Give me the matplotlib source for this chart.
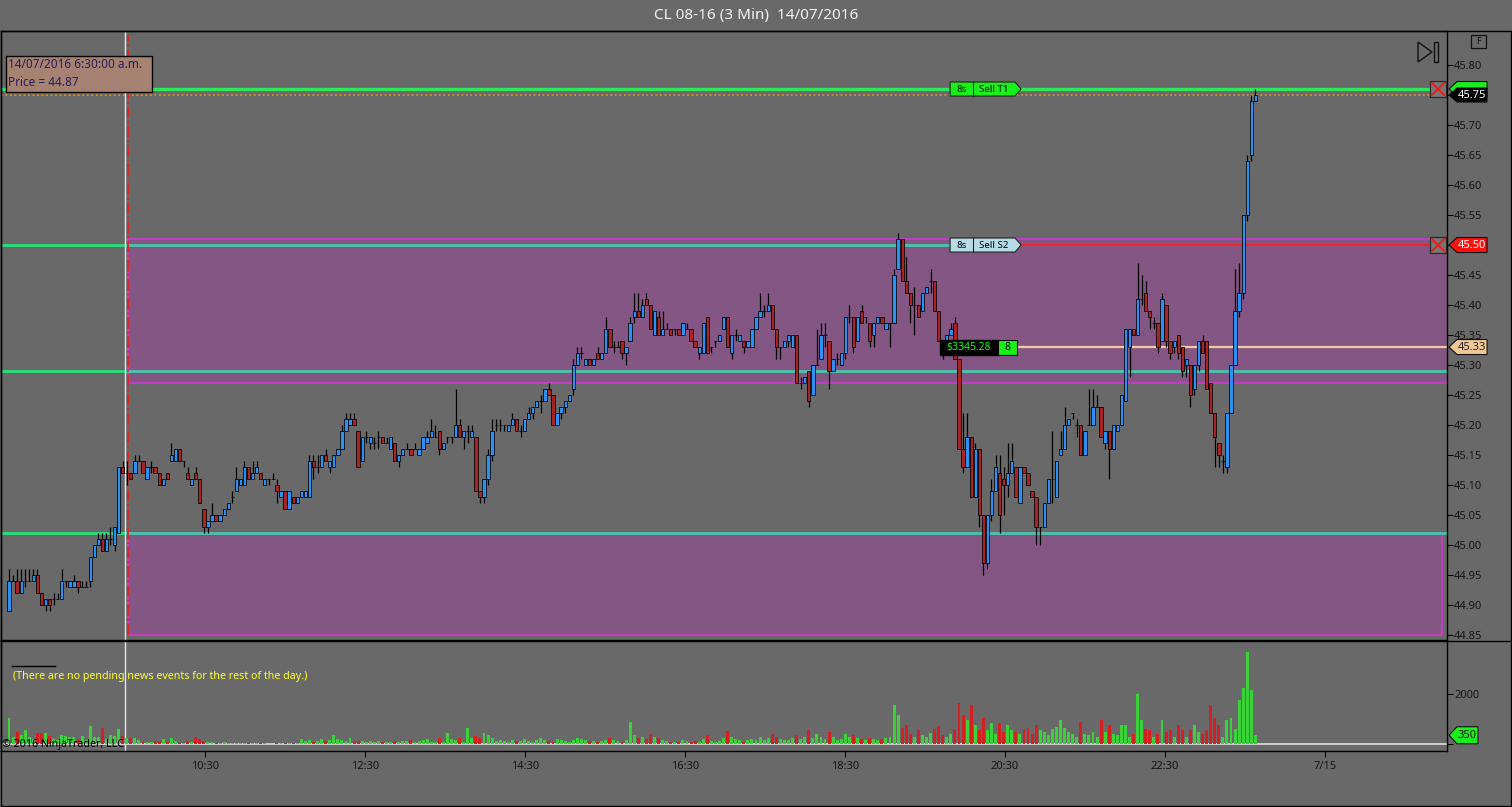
import matplotlib
matplotlib.use("Agg")
import matplotlib.pyplot as plt
import matplotlib.transforms as mtransforms
from matplotlib.patches import Polygon, Rectangle
from matplotlib.lines import Line2D
import numpy as np

plt.rcParams['font.family'] = ['Noto Sans', 'DejaVu Sans']

# ---- dados (CL 08-16, barras de 3 min, 14/07/2016) ----
opens = [
    44.89, 44.94, 44.94, 44.92, 44.94, 44.94, 44.94, 44.95, 44.92, 44.90,
    44.91, 44.91, 44.91, 44.91, 44.94, 44.93, 44.93, 44.94, 44.93, 44.93,
    44.94, 44.98, 45.00, 45.01, 44.99, 45.01, 45.00, 45.02, 45.13, 45.12,
    45.12, 45.12, 45.14, 45.14, 45.11, 45.13, 45.13, 45.12, 45.10, 45.12,
    45.14, 45.14, 45.16, 45.14, 45.12, 45.10, 45.12, 45.11, 45.06, 45.03,
    45.04, 45.05, 45.04, 45.05, 45.06, 45.08, 45.09, 45.10, 45.10, 45.13,
    45.11, 45.12, 45.12, 45.10, 45.11, 45.11, 45.10, 45.08, 45.09, 45.06,
    45.08, 45.07, 45.08, 45.08, 45.08, 45.14, 45.13, 45.13, 45.15, 45.13,
    45.13, 45.15, 45.16, 45.19, 45.20, 45.21, 45.19, 45.14, 45.18, 45.17,
    45.17, 45.18, 45.18, 45.17, 45.16, 45.17, 45.14, 45.15, 45.16, 45.16,
    45.16, 45.15, 45.16, 45.17, 45.18, 45.18, 45.19, 45.16, 45.18, 45.18,
    45.18, 45.20, 45.18, 45.19, 45.18, 45.18, 45.09, 45.08, 45.11, 45.15,
    45.20, 45.20, 45.20, 45.19, 45.20, 45.21, 45.19, 45.19, 45.21, 45.22,
    45.23, 45.24, 45.24, 45.26, 45.25, 45.20, 45.22, 45.23, 45.24, 45.26,
    45.30, 45.32, 45.30, 45.31, 45.30, 45.32, 45.31, 45.32, 45.36, 45.33,
    45.33, 45.34, 45.32, 45.34, 45.38, 45.39, 45.38, 45.41, 45.40, 45.35,
    45.38, 45.35, 45.36, 45.36, 45.36, 45.36, 45.35, 45.36, 45.36, 45.34,
    45.32, 45.32, 45.38, 45.33, 45.34, 45.34, 45.36, 45.38, 45.32, 45.35,
    45.34, 45.34, 45.33, 45.33, 45.36, 45.38, 45.39, 45.39, 45.40, 45.36,
    45.33, 45.33, 45.34, 45.33, 45.35, 45.27, 45.27, 45.29, 45.25, 45.30,
    45.31, 45.35, 45.34, 45.29, 45.31, 45.30, 45.32, 45.38, 45.38, 45.34,
    45.39, 45.38, 45.37, 45.35, 45.37, 45.38, 45.36, 45.37, 45.37, 45.46,
    45.51, 45.44, 45.42, 45.40, 45.40, 45.39, 45.42, 45.44, 45.44, 45.39,
    45.34, 45.33, 45.35, 45.37, 45.31, 45.16, 45.13, 45.18, 45.08, 45.16,
    45.05, 44.97, 45.05, 45.09, 45.12, 45.11, 45.10, 45.12, 45.13, 45.07,
    45.13, 45.12, 45.09, 45.08, 45.03, 45.03, 45.07, 45.11, 45.08, 45.15,
    45.16, 45.20, 45.22, 45.20, 45.20, 45.15, 45.20, 45.20, 45.23, 45.23,
    45.17, 45.19, 45.16, 45.19, 45.20, 45.24, 45.33, 45.36, 45.35, 45.41,
    45.42, 45.39, 45.37, 45.37, 45.34, 45.40, 45.34, 45.33, 45.35, 45.33,
    45.30, 45.30, 45.26, 45.30, 45.34, 45.34, 45.27, 45.22, 45.17, 45.14,
    45.13, 45.22, 45.30, 45.39, 45.42, 45.55, 45.65, 45.74,
]
highs = [
    44.96, 44.95, 44.96, 44.96, 44.96, 44.96, 44.96, 44.96, 44.92, 44.91,
    44.91, 44.92, 44.92, 44.96, 44.94, 44.94, 44.95, 44.94, 44.94, 44.94,
    44.98, 45.00, 45.02, 45.02, 45.02, 45.03, 45.03, 45.13, 45.14, 45.14,
    45.12, 45.15, 45.15, 45.14, 45.13, 45.14, 45.13, 45.12, 45.11, 45.12,
    45.17, 45.16, 45.16, 45.14, 45.13, 45.11, 45.13, 45.11, 45.06, 45.04,
    45.07, 45.05, 45.05, 45.06, 45.07, 45.09, 45.13, 45.11, 45.14, 45.13,
    45.14, 45.14, 45.12, 45.11, 45.11, 45.12, 45.11, 45.09, 45.09, 45.09,
    45.08, 45.08, 45.09, 45.09, 45.15, 45.15, 45.15, 45.15, 45.16, 45.14,
    45.15, 45.16, 45.20, 45.22, 45.22, 45.22, 45.19, 45.18, 45.19, 45.18,
    45.18, 45.19, 45.18, 45.18, 45.18, 45.17, 45.15, 45.16, 45.17, 45.16,
    45.17, 45.16, 45.18, 45.19, 45.21, 45.20, 45.19, 45.17, 45.18, 45.18,
    45.26, 45.21, 45.19, 45.20, 45.20, 45.18, 45.09, 45.11, 45.16, 45.21,
    45.21, 45.21, 45.20, 45.20, 45.22, 45.21, 45.20, 45.21, 45.23, 45.23,
    45.24, 45.25, 45.26, 45.27, 45.25, 45.22, 45.23, 45.24, 45.25, 45.31,
    45.33, 45.33, 45.31, 45.31, 45.31, 45.33, 45.32, 45.38, 45.36, 45.34,
    45.34, 45.34, 45.33, 45.38, 45.42, 45.42, 45.41, 45.42, 45.40, 45.39,
    45.39, 45.39, 45.37, 45.36, 45.36, 45.36, 45.37, 45.37, 45.36, 45.34,
    45.33, 45.37, 45.38, 45.33, 45.34, 45.35, 45.38, 45.38, 45.35, 45.36,
    45.35, 45.34, 45.34, 45.36, 45.38, 45.42, 45.40, 45.42, 45.40, 45.36,
    45.33, 45.34, 45.35, 45.35, 45.35, 45.28, 45.28, 45.29, 45.30, 45.36,
    45.37, 45.37, 45.34, 45.31, 45.32, 45.32, 45.38, 45.40, 45.38, 45.38,
    45.40, 45.38, 45.37, 45.37, 45.38, 45.38, 45.37, 45.37, 45.46, 45.52,
    45.51, 45.48, 45.42, 45.43, 45.40, 45.42, 45.43, 45.46, 45.44, 45.39,
    45.34, 45.35, 45.37, 45.38, 45.31, 45.22, 45.22, 45.18, 45.17, 45.16,
    45.05, 45.05, 45.11, 45.15, 45.15, 45.13, 45.17, 45.17, 45.13, 45.13,
    45.13, 45.12, 45.09, 45.08, 45.03, 45.07, 45.11, 45.19, 45.14, 45.19,
    45.23, 45.21, 45.22, 45.21, 45.20, 45.19, 45.26, 45.26, 45.25, 45.23,
    45.19, 45.19, 45.20, 45.20, 45.25, 45.36, 45.36, 45.36, 45.47, 45.45,
    45.44, 45.39, 45.38, 45.37, 45.42, 45.40, 45.34, 45.34, 45.35, 45.33,
    45.31, 45.30, 45.30, 45.34, 45.35, 45.34, 45.27, 45.22, 45.17, 45.15,
    45.22, 45.30, 45.46, 45.47, 45.55, 45.65, 45.75, 45.76,
]
lows = [
    44.89, 44.94, 44.92, 44.92, 44.93, 44.94, 44.94, 44.92, 44.90, 44.89,
    44.89, 44.90, 44.91, 44.91, 44.93, 44.93, 44.93, 44.92, 44.93, 44.93,
    44.93, 44.98, 45.00, 44.99, 44.99, 45.00, 44.99, 45.02, 45.12, 45.10,
    45.11, 45.12, 45.14, 45.12, 45.11, 45.12, 45.12, 45.10, 45.10, 45.11,
    45.14, 45.14, 45.14, 45.13, 45.11, 45.10, 45.11, 45.07, 45.02, 45.02,
    45.04, 45.04, 45.04, 45.05, 45.06, 45.07, 45.09, 45.10, 45.10, 45.11,
    45.11, 45.12, 45.11, 45.10, 45.10, 45.11, 45.07, 45.08, 45.06, 45.06,
    45.07, 45.07, 45.08, 45.08, 45.08, 45.11, 45.12, 45.13, 45.14, 45.12,
    45.13, 45.15, 45.16, 45.19, 45.20, 45.20, 45.13, 45.14, 45.17, 45.16,
    45.16, 45.16, 45.17, 45.17, 45.16, 45.14, 45.13, 45.15, 45.16, 45.15,
    45.16, 45.15, 45.16, 45.17, 45.18, 45.18, 45.15, 45.16, 45.17, 45.17,
    45.18, 45.18, 45.16, 45.17, 45.18, 45.09, 45.07, 45.07, 45.10, 45.14,
    45.19, 45.19, 45.19, 45.19, 45.20, 45.19, 45.18, 45.19, 45.21, 45.21,
    45.23, 45.22, 45.24, 45.25, 45.20, 45.20, 45.21, 45.22, 45.24, 45.25,
    45.30, 45.31, 45.30, 45.30, 45.30, 45.31, 45.31, 45.32, 45.33, 45.32,
    45.33, 45.31, 45.30, 45.34, 45.37, 45.38, 45.38, 45.40, 45.36, 45.35,
    45.35, 45.35, 45.36, 45.35, 45.35, 45.35, 45.35, 45.36, 45.34, 45.33,
    45.31, 45.32, 45.32, 45.32, 45.33, 45.34, 45.36, 45.33, 45.31, 45.34,
    45.34, 45.32, 45.33, 45.33, 45.36, 45.38, 45.38, 45.39, 45.36, 45.31,
    45.31, 45.33, 45.33, 45.33, 45.27, 45.26, 45.27, 45.23, 45.25, 45.30,
    45.31, 45.33, 45.26, 45.29, 45.30, 45.30, 45.31, 45.37, 45.32, 45.34,
    45.37, 45.37, 45.33, 45.33, 45.37, 45.37, 45.36, 45.33, 45.37, 45.46,
    45.44, 45.42, 45.37, 45.35, 45.38, 45.39, 45.42, 45.42, 45.39, 45.34,
    45.31, 45.33, 45.35, 45.31, 45.16, 45.12, 45.13, 45.08, 45.08, 45.03,
    44.95, 44.96, 45.04, 45.09, 45.02, 45.05, 45.08, 45.12, 45.08, 45.07,
    45.12, 45.10, 45.08, 45.00, 45.00, 45.03, 45.07, 45.07, 45.08, 45.15,
    45.16, 45.20, 45.21, 45.18, 45.15, 45.15, 45.20, 45.20, 45.23, 45.18,
    45.16, 45.11, 45.16, 45.19, 45.20, 45.24, 45.28, 45.35, 45.35, 45.40,
    45.39, 45.36, 45.36, 45.32, 45.34, 45.33, 45.31, 45.32, 45.31, 45.28,
    45.28, 45.23, 45.25, 45.29, 45.32, 45.26, 45.22, 45.13, 45.13, 45.12,
    45.12, 45.22, 45.30, 45.38, 45.41, 45.54, 45.64, 45.74,
]
closes = [
    44.94, 44.94, 44.92, 44.94, 44.94, 44.94, 44.95, 44.92, 44.90, 44.91,
    44.90, 44.91, 44.91, 44.94, 44.94, 44.94, 44.94, 44.93, 44.93, 44.93,
    44.98, 45.00, 45.01, 44.99, 45.01, 45.01, 45.03, 45.13, 45.12, 45.12,
    45.11, 45.14, 45.14, 45.12, 45.13, 45.13, 45.12, 45.10, 45.11, 45.11,
    45.15, 45.16, 45.14, 45.14, 45.11, 45.11, 45.11, 45.07, 45.03, 45.04,
    45.05, 45.04, 45.05, 45.06, 45.07, 45.08, 45.11, 45.11, 45.13, 45.11,
    45.12, 45.13, 45.11, 45.11, 45.11, 45.11, 45.09, 45.09, 45.06, 45.09,
    45.07, 45.08, 45.09, 45.09, 45.14, 45.13, 45.13, 45.15, 45.14, 45.14,
    45.15, 45.16, 45.19, 45.21, 45.21, 45.20, 45.13, 45.18, 45.18, 45.18,
    45.17, 45.18, 45.17, 45.17, 45.18, 45.14, 45.15, 45.16, 45.16, 45.15,
    45.16, 45.16, 45.18, 45.18, 45.19, 45.18, 45.16, 45.17, 45.18, 45.18,
    45.20, 45.18, 45.19, 45.19, 45.19, 45.09, 45.08, 45.11, 45.15, 45.19,
    45.20, 45.20, 45.20, 45.20, 45.21, 45.19, 45.19, 45.21, 45.22, 45.23,
    45.24, 45.24, 45.26, 45.25, 45.20, 45.22, 45.23, 45.24, 45.25, 45.30,
    45.32, 45.32, 45.31, 45.30, 45.31, 45.31, 45.32, 45.36, 45.33, 45.33,
    45.33, 45.32, 45.33, 45.37, 45.39, 45.38, 45.40, 45.40, 45.36, 45.39,
    45.35, 45.36, 45.36, 45.35, 45.36, 45.35, 45.37, 45.36, 45.34, 45.33,
    45.33, 45.37, 45.32, 45.33, 45.34, 45.35, 45.38, 45.33, 45.35, 45.35,
    45.35, 45.33, 45.34, 45.36, 45.38, 45.39, 45.39, 45.40, 45.36, 45.33,
    45.33, 45.34, 45.35, 45.35, 45.27, 45.27, 45.28, 45.24, 45.30, 45.30,
    45.35, 45.35, 45.29, 45.31, 45.31, 45.32, 45.38, 45.38, 45.33, 45.38,
    45.37, 45.38, 45.34, 45.37, 45.38, 45.37, 45.37, 45.37, 45.45, 45.51,
    45.44, 45.42, 45.40, 45.40, 45.38, 45.42, 45.43, 45.44, 45.39, 45.34,
    45.33, 45.35, 45.36, 45.31, 45.16, 45.13, 45.18, 45.08, 45.16, 45.05,
    44.97, 45.05, 45.09, 45.13, 45.05, 45.10, 45.12, 45.14, 45.08, 45.13,
    45.12, 45.10, 45.08, 45.03, 45.03, 45.07, 45.11, 45.11, 45.14, 45.16,
    45.20, 45.21, 45.22, 45.20, 45.15, 45.19, 45.20, 45.23, 45.23, 45.18,
    45.19, 45.16, 45.20, 45.20, 45.25, 45.36, 45.36, 45.35, 45.41, 45.41,
    45.39, 45.38, 45.37, 45.33, 45.41, 45.34, 45.32, 45.34, 45.32, 45.29,
    45.31, 45.25, 45.30, 45.34, 45.32, 45.26, 45.22, 45.18, 45.15, 45.14,
    45.22, 45.30, 45.39, 45.42, 45.55, 45.64, 45.74, 45.75,
]
volumes = [
    1050, 290, 490, 360, 560, 290, 190, 430, 430, 450,
    320, 190, 160, 360, 320, 290, 290, 200, 320, 160,
    720, 290, 290, 640, 190, 360, 320, 600, 320, 230,
    260, 250, 160, 90, 90, 90, 130, 120, 190, 90,
    260, 130, 60, 40, 120, 80, 290, 200, 140, 90,
    80, 40, 60, 70, 60, 40, 50, 40, 60, 30,
    40, 30, 50, 30, 20, 20, 60, 40, 60, 40,
    30, 30, 200, 120, 170, 80, 130, 200, 110, 160,
    360, 200, 150, 120, 230, 110, 140, 120, 90, 110,
    80, 120, 90, 70, 100, 110, 90, 110, 140, 160,
    100, 120, 150, 220, 100, 100, 260, 90, 450, 220,
    160, 240, 100, 640, 260, 330, 260, 430, 360, 240,
    130, 180, 120, 90, 150, 110, 140, 200, 120, 90,
    160, 240, 180, 130, 100, 200, 150, 120, 90, 170,
    260, 200, 150, 110, 140, 90, 120, 180, 230, 150,
    130, 100, 160, 880, 360, 260, 300, 200, 420, 300,
    240, 150, 120, 100, 80, 90, 150, 120, 90, 120,
    100, 200, 360, 120, 90, 130, 240, 520, 300, 200,
    160, 100, 150, 200, 160, 280, 150, 240, 420, 300,
    200, 180, 160, 260, 360, 200, 300, 560, 260, 400,
    300, 200, 500, 300, 160, 200, 400, 300, 360, 260,
    200, 150, 240, 200, 160, 200, 260, 300, 1560, 1160,
    640, 760, 400, 300, 560, 360, 300, 440, 600, 720,
    360, 300, 400, 600, 1640, 1160, 960, 1560, 760, 560,
    1040, 560, 840, 400, 840, 500, 760, 560, 500, 400,
    600, 640, 400, 760, 560, 480, 360, 600, 700, 960,
    640, 500, 400, 300, 880, 400, 360, 500, 300, 960,
    500, 760, 400, 360, 760, 760, 300, 400, 2000, 960,
    600, 560, 300, 400, 960, 500, 560, 300, 760, 560,
    300, 560, 760, 500, 400, 560, 1560, 1040, 760, 300,
    960, 1040, 600, 1760, 2240, 3680, 2160, 350,
]

price_ticks = [44.85, 44.90, 44.95, 45.00, 45.05, 45.10, 45.15, 45.20, 45.25,
               45.30, 45.35, 45.40, 45.45, 45.50, 45.55, 45.60, 45.65, 45.70,
               45.75, 45.80]
time_labels = ['10:30', '12:30', '14:30', '16:30', '18:30', '20:30', '22:30', '7/15']
time_tick_bars = [48.3, 87.7, 127.1, 166.5, 205.9, 245.3, 284.7, 324.1]

target_price = 45.76      # Sell T1
last_price = 45.75
stop_price = 45.50        # Sell S2
avg_price = 45.33
pivot_levels = [45.50, 45.29, 45.02]
zone_upper = (45.27, 45.51)
zone_lower = (44.85, 45.02)
cursor_bar = 28.6
marker_bar = 29.3

# ---- figura ----
W, H = 1512, 807
BG = '#696969'
fig = plt.figure(figsize=(W / 100, H / 100), dpi=100, facecolor=BG)


def fx(x):
    return x / W


def fy(y):
    return 1 - y / H


ax = fig.add_axes([fx(1), fy(640), fx(1447) - fx(1), fy(31) - fy(640)], facecolor=BG)
axv = fig.add_axes([fx(1), fy(751), fx(1447) - fx(1), fy(641) - fy(751)], facecolor=BG, sharex=ax)

o = np.array(opens)
h = np.array(highs)
l = np.array(lows)
c = np.array(closes)
v = np.array(volumes)
idx = np.arange(len(c))
up = c >= o

ax.set_xlim(-1.97, 354.2)
ax.set_ylim(44.8417, 45.8567)
axv.set_ylim(-280, 4120)
x_right = 354.2

# zonas roxas
ax.add_patch(Rectangle((marker_bar, zone_upper[0]), 400, zone_upper[1] - zone_upper[0],
                       facecolor='#845683', edgecolor='#c23fc2', lw=1.4, zorder=1))
ax.add_patch(Rectangle((marker_bar, zone_lower[0]), 352.9 - marker_bar, zone_lower[1] - zone_lower[0],
                       facecolor='#845683', edgecolor='#c23fc2', lw=1.4, zorder=1))

# linhas de pivô: verde antes do cursor, verde-água depois
for lvl in pivot_levels:
    ax.hlines(lvl, -5, cursor_bar, color='#25e27a', lw=2.0, zorder=2)
    end = 247.8 if lvl == stop_price else x_right + 5
    ax.hlines(lvl, cursor_bar, end, color='#46c6ac', lw=2.0, zorder=2)
ax.hlines(stop_price, 247.8, 351.7, color='#ff2020', lw=1.4, zorder=2)

ax.axhline(target_price, color='#2ee85c', lw=2.4, zorder=2)
ax.axhline(last_price, color='#e0902a', lw=1.3, ls=(0, (1, 1.5)), zorder=2)
ax.hlines(avg_price, 248.3, x_right + 5, color='#f2c9a0', lw=1.6, zorder=2)

ax.axvline(cursor_bar, color='#e6e6e6', lw=1.0, zorder=2)
axv.axvline(cursor_bar, color='#e6e6e6', lw=1.0, zorder=2)
ax.vlines(marker_bar, 44.85, 45.85, color='#e02424', lw=1.3, ls='-.', zorder=2)

# candles
ax.vlines(idx, l, h, color='black', lw=0.9, zorder=3)
ax.bar(idx, np.abs(c - o), bottom=np.minimum(o, c), width=0.82,
       color=np.where(up, '#2a90f2', '#a82424'), edgecolor='black', linewidth=0.55, zorder=4)

# volume
axv.axhline(0, color='#d6d6d6', lw=1.3, zorder=2)
axv.bar(idx, v, width=0.72, color=np.where(up, '#3ad13a', '#d42020'), zorder=3)

# eixos
for a in (ax, axv):
    a.yaxis.tick_right()
    for s in a.spines.values():
        s.set_color('black')
        s.set_linewidth(1.0)
    a.tick_params(axis='y', direction='out', length=4, colors='black',
                  labelsize=8, pad=1, labelcolor='#151515')
ax.set_yticks(price_ticks)
# 45.75 e 45.50 ficam cobertos pelos marcadores de preço
ax.set_yticklabels(['' if p in (last_price, stop_price) else f'{p:.2f}' for p in price_ticks])
ax.tick_params(axis='x', bottom=False, labelbottom=False)
axv.set_yticks([0, 2000])
axv.set_yticklabels(['', '2000'])
axv.set_xticks(time_tick_bars)
axv.set_xticklabels(time_labels)
axv.tick_params(axis='x', direction='out', length=4, colors='black', labelsize=8,
                pad=3, labelcolor='#151515')

# etiquetas de ordens
pt = 0.0117


def order_tag(y, left, mid, right, fc, t1, t2):
    ax.add_patch(Polygon([(left, y - pt), (right, y - pt), (right + 1.5, y),
                          (right, y + pt), (left, y + pt)], closed=True,
                         fc=fc, ec='#222222', lw=0.8, zorder=6))
    ax.plot([mid, mid], [y - pt, y + pt], color='#222222', lw=0.8, zorder=7)
    ax.text((left + mid) / 2, y, t1, ha='center', va='center', fontsize=7, color='black', zorder=7)
    ax.text((mid + right) / 2, y, t2, ha='center', va='center', fontsize=7, color='black', zorder=7)


order_tag(target_price, 231.8, 237.4, 247.8, '#19f019', '8s', 'Sell T1')
order_tag(stop_price, 231.8, 237.4, 247.8, '#b6dcea', '8s', 'Sell S2')

ax.add_patch(Rectangle((229.3, avg_price - 0.0125), 14.3, 0.025, fc='black', ec='black', zorder=6))
ax.text(236.4, avg_price, '$3345.28', ha='center', va='center', fontsize=7.5, color='#19f019', zorder=7)
ax.add_patch(Rectangle((243.6, avg_price - 0.0125), 4.7, 0.025, fc='#19f019', ec='black', lw=0.8, zorder=6))
ax.text(245.95, avg_price, '8', ha='center', va='center', fontsize=7.5, color='black', zorder=7)

for lvl in (target_price, stop_price):
    ax.add_patch(Rectangle((350.0, lvl - 0.0133), 4.0, 0.0266, fc='#777777', ec='#2a2a2a', lw=0.9, zorder=6))
    ax.plot([350.5, 353.5], [lvl - 0.010, lvl + 0.010], color='#ee1c1c', lw=1.4, zorder=7)
    ax.plot([350.5, 353.5], [lvl + 0.010, lvl - 0.010], color='#ee1c1c', lw=1.4, zorder=7)


# marcadores no eixo de preço
def price_tag(a, y, half, text, fc, tc, x2=1.0277):
    tr = mtransforms.blended_transform_factory(a.transAxes, a.transData)
    x0, x1 = 1.0014, 1.0069
    a.add_patch(Polygon([(x0, y), (x1, y + half), (x2, y + half), (x2, y - half), (x1, y - half)],
                        closed=True, transform=tr, fc=fc, ec='#111111', lw=0.8,
                        clip_on=False, zorder=10))
    if text:
        a.text((x1 + x2) / 2, y, text, transform=tr, ha='center', va='center', color=tc,
               fontsize=8, clip_on=False, zorder=11)


price_tag(ax, target_price, 0.0125, '', '#19f019', '#111111')   # escondido atrás do 45.75
price_tag(ax, last_price, 0.0117, '45.75', 'black', 'white')
price_tag(ax, stop_price, 0.0125, '45.50', '#ff1010', 'white')
price_tag(ax, avg_price, 0.0125, '45.33', '#f0c898', '#222222')
price_tag(axv, volumes[-1], 340, str(volumes[-1]), '#19f019', '#111111', x2=1.0214)

# moldura e separadores
fig.add_artist(Rectangle((fx(0.5), fy(805.5)), fx(1510), fy(30.5) - fy(805.5),
                         transform=fig.transFigure, fill=False, ec='black', lw=1.0))
fig.add_artist(Line2D([fx(1447), fx(1512)], [fy(640.5), fy(640.5)], color='black', lw=1.0))

# título
fig.text(fx(756), fy(16), 'CL 08-16 (3 Min)  14/07/2016', ha='center', va='center',
         color='#f2f2f2', fontsize=11)

# caixa do cursor
fig.add_artist(Rectangle((fx(6), fy(92)), fx(146), fy(56) - fy(92), transform=fig.transFigure,
                         fc='#a68272', ec='black', lw=1.0, zorder=5))
fig.text(fx(8), fy(65), '14/07/2016 6:30:00 a.m.', color='#2a1d5e', fontsize=8.5,
         va='center', zorder=6)
fig.text(fx(8), fy(82), 'Price = 44.87', color='#2a1d5e', fontsize=8.5, va='center', zorder=6)

# ícones do canto
fig.add_artist(Polygon([(fx(1418), fy(42)), (fx(1418), fy(62)), (fx(1432), fy(52))], closed=True,
                       transform=fig.transFigure, fill=False, ec='#111111', lw=1.0))
fig.add_artist(Rectangle((fx(1434), fy(62)), fx(4), fy(42) - fy(62), transform=fig.transFigure,
                         fill=False, ec='#111111', lw=1.0))
fig.add_artist(Rectangle((fx(1471), fy(48)), fx(15), fy(35) - fy(48), transform=fig.transFigure,
                         fill=False, ec='#111111', lw=0.9))
fig.text(fx(1478.5), fy(41.5), 'F', ha='center', va='center', fontsize=6.5, color='#111111')

# textos do painel de volume
fig.add_artist(Line2D([fx(12), fx(55)], [fy(666), fy(666)], color='black', lw=1.0))
fig.text(fx(13), fy(676), '(There are no pending news events for the rest of the day.)',
         color='#ffff2a', fontsize=7.7, va='center')
fig.text(fx(2), fy(745), '© 2016 NinjaTrader, LLC', color='black', fontsize=7.7, va='center')

fig.savefig('out.png', dpi=100, facecolor=BG)
